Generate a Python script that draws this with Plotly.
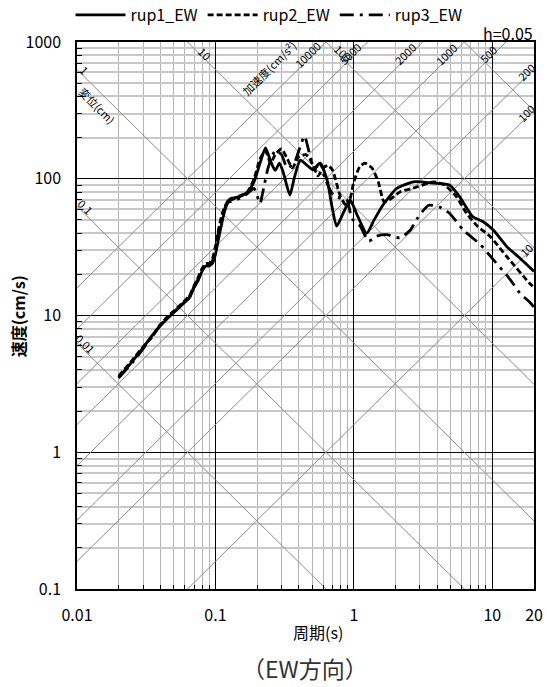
import math
import plotly.graph_objects as go

# ---------------- data ----------------
PERIOD_1 = [0.02, 0.025, 0.03, 0.035, 0.04, 0.045, 0.05, 0.055, 0.06, 0.065, 0.07, 0.075, 0.08, 0.085,
            0.09, 0.095, 0.1, 0.105, 0.11, 0.115, 0.12, 0.125, 0.13, 0.15, 0.17, 0.19, 0.21, 0.23,
            0.25, 0.27, 0.29, 0.31, 0.345, 0.37, 0.41, 0.46, 0.51, 0.57, 0.64, 0.7, 0.75, 0.85,
            0.94, 1.05, 1.24, 1.4, 1.6, 1.73, 2.04, 2.7, 3.76, 4.9, 5.8, 7.2, 8.6, 10.2, 12.7, 16, 20]
VEL_1 = [3.5, 4.6, 5.8, 7.2, 8.4, 9.5, 10.5, 11.5, 12.5, 13.5, 16, 18, 21, 23,
         23, 24, 28, 36, 45, 55, 64, 70, 72, 74, 80, 95, 130, 168,
         135, 115, 130, 110, 76, 100, 137, 125, 116, 130, 98, 60, 45, 58,
         70, 55, 40, 50, 63, 70, 85, 95, 93, 90, 74, 53, 48.5, 42, 32, 26, 21]

PERIOD_2 = [0.02, 0.025, 0.03, 0.035, 0.04, 0.045, 0.05, 0.055, 0.06, 0.065, 0.07, 0.075, 0.08, 0.085,
            0.09, 0.095, 0.1, 0.105, 0.11, 0.115, 0.12, 0.125, 0.13, 0.15, 0.17, 0.19, 0.21, 0.23,
            0.25, 0.27, 0.3, 0.33, 0.36, 0.4, 0.45, 0.5, 0.55, 0.6, 0.65, 0.7, 0.8, 0.9, 1.0,
            1.1, 1.2, 1.35, 1.5, 1.65, 1.8, 2.15, 2.85, 3.76, 4.5, 5.5, 6.5, 7.8, 9.7, 12.7, 18.5, 20]
VEL_2 = [3.6, 4.7, 5.9, 7.0, 8.6, 9.8, 10.8, 11.8, 12.8, 14, 16.5, 19, 22, 24,
         24, 26, 32, 42, 52, 60, 66, 70, 70, 75, 80, 100, 140, 160,
         130, 150, 165, 140, 120, 145, 150, 130, 105, 120, 125, 116, 74, 62, 95,
         122, 130, 120, 95, 68, 70, 80, 87, 95, 90, 74, 56, 45, 37.6, 27, 17.3, 16]

PERIOD_3 = [0.02, 0.025, 0.03, 0.035, 0.04, 0.045, 0.05, 0.055, 0.06, 0.065, 0.07, 0.075, 0.08, 0.085,
            0.09, 0.095, 0.1, 0.105, 0.11, 0.115, 0.12, 0.125, 0.13, 0.15, 0.17, 0.19, 0.2, 0.21,
            0.22, 0.24, 0.27, 0.3, 0.33, 0.37, 0.4, 0.44, 0.48, 0.52, 0.57, 0.62, 0.71, 0.8, 0.89,
            0.97, 1.11, 1.28, 1.45, 1.73, 2.15, 2.55, 2.86, 3.47, 4.17, 4.9, 6.2, 8.2, 10.2, 13.2,
            15.8, 18.5, 20]
VEL_3 = [3.5, 4.5, 5.7, 7.1, 8.5, 9.6, 10.6, 11.6, 12.6, 13.8, 16.2, 18.5, 21.5, 23.5,
         23.5, 25, 30, 40, 50, 58, 64, 68, 68, 72, 78, 85, 75, 66,
         80, 120, 160, 150, 120, 130, 160, 205, 150, 120, 130, 100, 76, 72, 70,
         51, 45, 35, 38, 39, 37, 42, 51, 64, 62, 56, 42, 33, 25.5, 18.8,
         14.6, 12.6, 11.5]

SERIES_NAMES = ["rup1_EW", "rup2_EW", "rup3_EW"]

DISP_LINES = [0.01, 0.1, 1, 10, 100, 1000]                       # cm
ACC_LINES = [10, 100, 200, 500, 1000, 2000, 5000, 10000]         # cm/s^2

X_TICKS = [0.01, 0.1, 1, 10, 20]
X_TICK_TEXT = ["0.01", "0.1", "1", "10", "20"]
Y_TICKS = [0.1, 1, 10, 100, 1000]
Y_TICK_TEXT = ["0.1", "1", "10", "100", "1000"]

T_MIN, T_MAX = 0.01, 20
V_MIN, V_MAX = 0.1, 1000

FONT = "Noto Sans CJK JP"
TWO_PI = 2 * math.pi

fig = go.Figure()

# tripartite guide lines
for sd in DISP_LINES:
    fig.add_trace(go.Scatter(x=[T_MIN, T_MAX], y=[TWO_PI * sd / T_MIN, TWO_PI * sd / T_MAX],
                             mode="lines", line=dict(color="#8c8c8c", width=1),
                             showlegend=False, hoverinfo="skip"))
for sa in ACC_LINES:
    fig.add_trace(go.Scatter(x=[T_MIN, T_MAX], y=[sa * T_MIN / TWO_PI, sa * T_MAX / TWO_PI],
                             mode="lines", line=dict(color="#8c8c8c", width=1),
                             showlegend=False, hoverinfo="skip"))

styles = ["solid", "6px,3px", "14px,6px,3px,6px"]
for name, T, V, dash in zip(SERIES_NAMES, [PERIOD_1, PERIOD_2, PERIOD_3],
                            [VEL_1, VEL_2, VEL_3], styles):
    fig.add_trace(go.Scatter(x=T, y=V, mode="lines", name=name,
                             line=dict(color="black", width=2.8, dash=dash, shape="spline",
                                       smoothing=0.6)))

# minor tick values
def minors(lo, hi):
    out = []
    d = 10 ** math.floor(math.log10(lo))
    while d < hi:
        for k in range(2, 10):
            v = k * d
            if lo < v < hi:
                out.append(v)
        d *= 10
    return out

L = math.log10
ann = []

def lab(x, y, text, angle, xshift=0, yshift=0, size=11):
    ann.append(dict(x=L(x), y=L(y), xref="x", yref="y", text=text, showarrow=False,
                    textangle=angle, xshift=xshift, yshift=yshift,
                    font=dict(family=FONT, size=size, color="black")))

# displacement labels
for sd in [10, 100]:
    lab(TWO_PI * sd / V_MAX, V_MAX, f"{sd:g}", 45, xshift=17, yshift=-11)
for sd in [1, 0.1, 0.01]:
    lab(T_MIN, TWO_PI * sd / T_MIN, f"{sd:g}", 45, xshift=8, yshift=0)
lab(T_MIN, TWO_PI * 1 / T_MIN, "変位(cm)", 45, xshift=20, yshift=-35)

# acceleration labels
for sa in [10000, 5000, 2000, 1000, 500]:
    lab(TWO_PI * V_MAX / sa, V_MAX, f"{sa:g}", -45, xshift=-18, yshift=-12)
for sa in [200, 100, 10]:
    lab(T_MAX, sa * T_MAX / TWO_PI, f"{sa:g}", -45, xshift=-8, yshift=-3)
lab(TWO_PI * V_MAX / 10000, V_MAX, "加速度(cm/s²)", -45, xshift=-57, yshift=-26)

PL, PR, PT, PB = 76.7, 534.4, 42, 589.3
PW, PH = PR - PL, PB - PT

def px(xp):
    return (xp - PL) / PW

def py(yp):
    return (PB - yp) / PH

def paper_text(xp, yp, text, size=16, color="black", angle=0, xanchor="center"):
    ann.append(dict(xref="paper", yref="paper", x=px(xp), y=py(yp), text=text, showarrow=False,
                    xanchor=xanchor, yanchor="middle", textangle=angle,
                    font=dict(family=FONT, size=size, color=color)))

paper_text(318, 632, "周期(s)")
paper_text(17, 316, "<b>速度(cm/s)</b>", angle=-90)
paper_text(305, 668, "（EW方向）", size=23, color="#333333")
paper_text(535, 33, "h=0.05", xanchor="right")

fig.update_layout(
    width=547, height=687,
    margin=dict(l=PL, r=547 - PR, t=PT, b=687 - PB, autoexpand=False),
    paper_bgcolor="white", plot_bgcolor="white",
    font=dict(family=FONT, size=16, color="black"),
    annotations=ann,
    legend=dict(orientation="h", x=px(269), xanchor="center", y=py(15), yanchor="middle",
                font=dict(family=FONT, size=16), itemwidth=50, bgcolor="rgba(0,0,0,0)",
                tracegroupgap=0),
    showlegend=True,
)

fig.update_xaxes(type="log", range=[L(T_MIN), L(T_MAX)], tickvals=X_TICKS, ticktext=X_TICK_TEXT,
                 showgrid=True, gridcolor="black", gridwidth=1, ticks="",
                 showline=True, mirror=True, linecolor="black", linewidth=1.5,
                 ticklabelstandoff=11, zeroline=False,
                 minor=dict(tickvals=minors(T_MIN, T_MAX), showgrid=True, gridcolor="#b4b4b4",
                            gridwidth=1, ticks="inside", ticklen=4, tickcolor="black"))
fig.update_yaxes(type="log", range=[L(V_MIN), L(V_MAX)], tickvals=Y_TICKS, ticktext=Y_TICK_TEXT,
                 showgrid=True, gridcolor="black", gridwidth=1, ticks="",
                 showline=True, mirror=True, linecolor="black", linewidth=1.5,
                 ticklabelstandoff=11, zeroline=False,
                 minor=dict(tickvals=minors(V_MIN, V_MAX), showgrid=True, gridcolor="#c8c8c8",
                            gridwidth=1.5, ticks="inside", ticklen=5, tickcolor="black"))

fig.write_html("out.html", config={"displayModeBar": False},
               post_script="document.body.style.margin='0';document.body.style.overflow='hidden';")
